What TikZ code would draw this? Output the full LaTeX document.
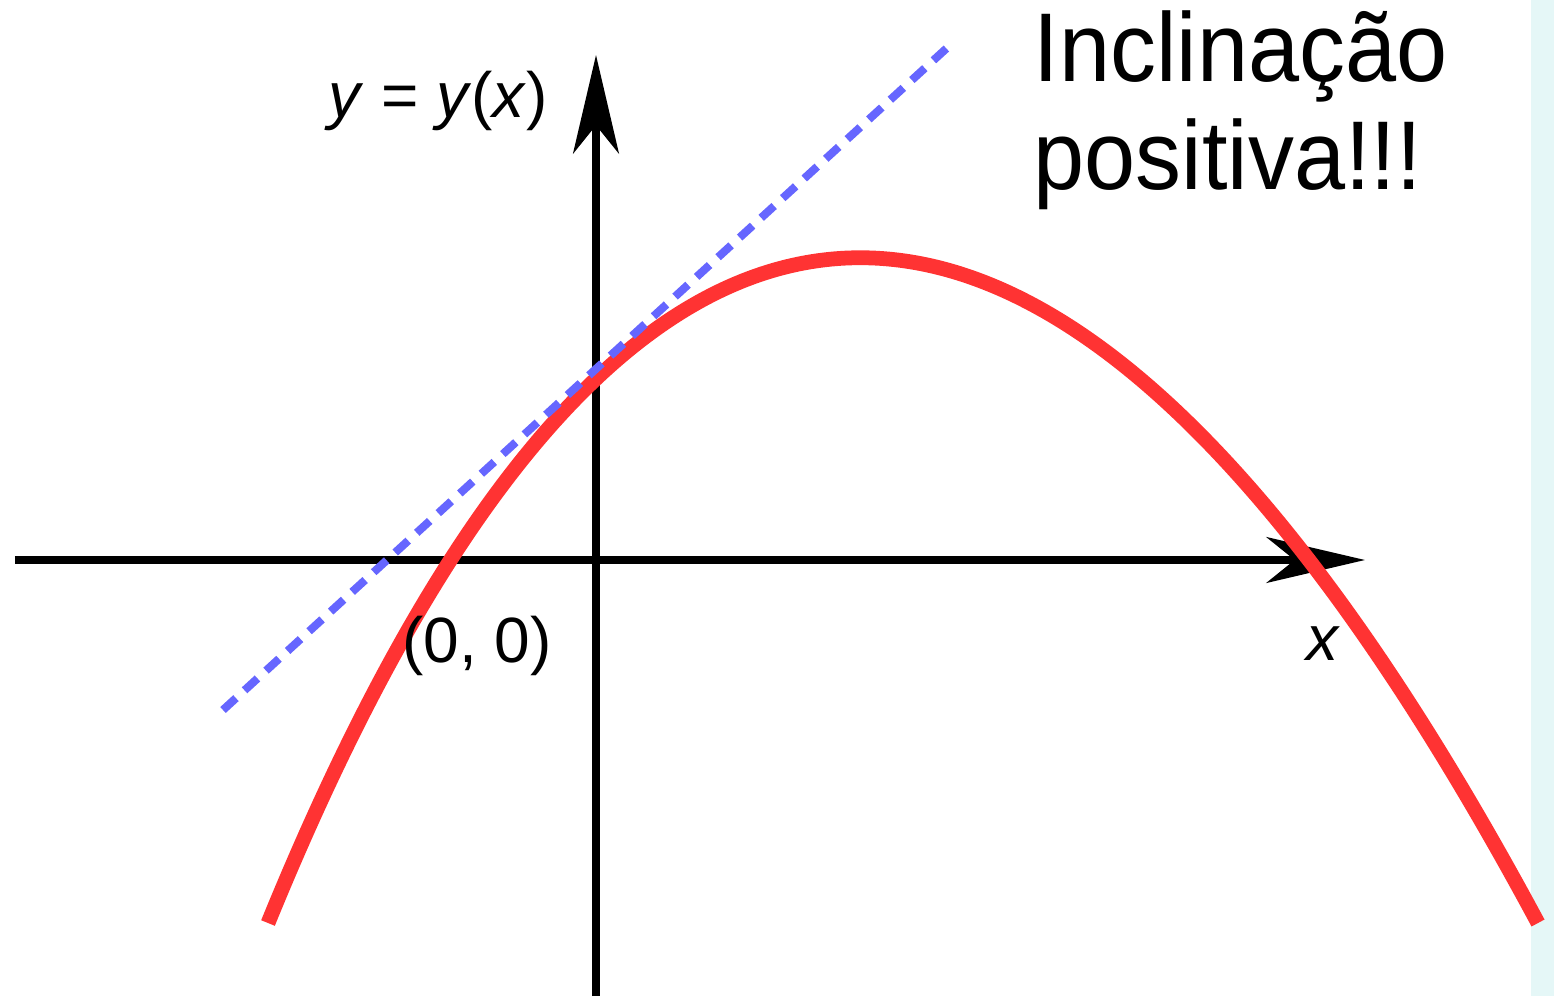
\documentclass[tikz,border=0pt]{standalone}
\usepackage{fontspec}
\setmainfont{Liberation Sans}
\newfontfamily\titrefont[FakeStretch=0.94]{Liberation Sans}
\usetikzlibrary{arrows.meta}

\definecolor{rougeCourbe}{RGB}{255,51,51}
\definecolor{bleuTangente}{RGB}{102,102,255}
\definecolor{bandeCyan}{RGB}{229,247,247}

\begin{document}
\begin{tikzpicture}[x=1cm,y=1cm]
		% Courbe concave avec tangente de pente positive
		\pgfmathsetmacro{\axisWidth}{2.3}  % epaisseur des axes en pt
		\pgfmathsetmacro{\curveWidth}{4.2} % epaisseur de la courbe en pt
		\pgfmathsetmacro{\labelSize}{18.2}
		\pgfmathsetmacro{\titleSize}{27.8}

		% cadre et bande claire a droite
		\useasboundingbox (-5.96,-4.36) rectangle (9.58,5.60);
		\fill[bandeCyan] (9.35,-4.36) rectangle (9.58,5.60);

		% axes
		\coordinate (O) at (0,0);
		\coordinate (xmin) at (-5.81,0);
		\coordinate (xmax) at (7.69,0);
		\coordinate (ymin) at (0,-4.36);
		\coordinate (ymax) at (0,5.05);
		\draw[line width=\axisWidth pt,-{Stealth[length=28pt,width=13pt,inset=8pt]}] (xmin) -- (xmax);
		\draw[line width=\axisWidth pt,-{Stealth[length=28pt,width=13pt,inset=8pt]}] (ymin) -- (ymax);

		% courbe (arc de Bezier)
		\coordinate (debut) at (-3.28,-3.63);
		\coordinate (ctrlA) at (0.34,5.24);
		\coordinate (ctrlB) at (4.66,5.24);
		\coordinate (fin) at (9.42,-3.63);
		\draw[rougeCourbe,line width=\curveWidth pt] (debut) .. controls (ctrlA) and (ctrlB) .. (fin);

		% tangente en pointilles
		\coordinate (tanBas) at (-3.73,-1.50);
		\coordinate (tanHaut) at (3.52,5.13);
		\draw[bleuTangente,line width=2.3pt,dash pattern=on 5pt off 3.3pt] (tanBas) -- (tanHaut);

		% etiquettes
		\node[font=\fontsize{\labelSize}{22}\selectfont, inner sep=0] (ylabel) at (-1.58,4.59) {\textit{y} = \textit{y}(\textit{x})};
		\node[font=\fontsize{\labelSize}{22}\selectfont, inner sep=0] (origine) at (-1.19,-0.86) {(0, 0)};
		\node[font=\fontsize{\labelSize}{22}\selectfont, inner sep=0] (xlabel) at (7.27,-0.84) {\textit{x}};

		% titre
		\node[font=\titrefont\fontsize{\titleSize}{33}\selectfont, inner sep=0, anchor=base west] (titreA) at (4.37,4.78) {Inclinação};
		\node[font=\titrefont\fontsize{\titleSize}{33}\selectfont, inner sep=0, anchor=base west] (titreB) at (4.37,3.70) {positiva!!!};
	\end{tikzpicture}
\end{document}
